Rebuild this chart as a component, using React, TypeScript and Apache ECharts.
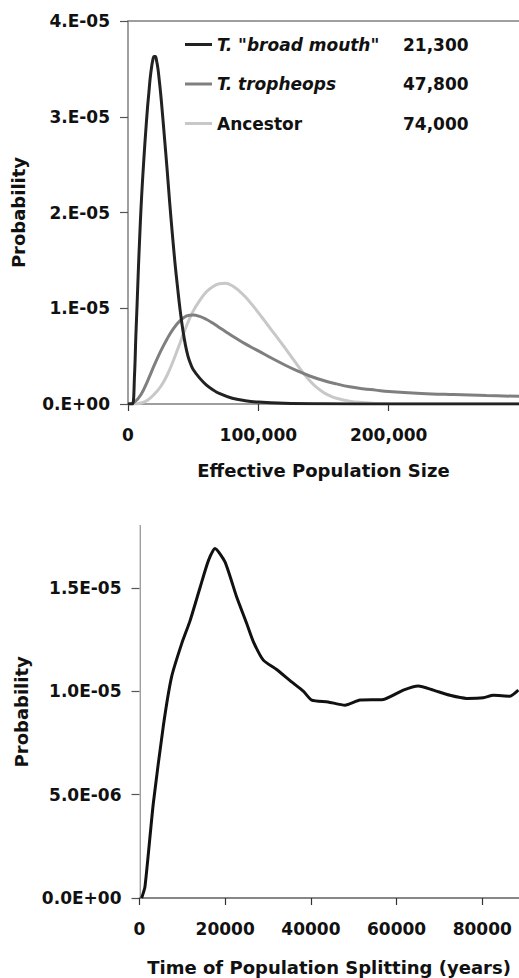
import React, { useEffect, useRef } from "react";
import * as echarts from "echarts";

// ---------- Data ----------
const seriesNames = ['T. "broad mouth"', "T. tropheops", "Ancestor"];
const seriesModes = ["21,300", "47,800", "74,000"];

// Effective population size (x) vs probability (y, in units of 1e-5)
const broadMouthX = [0, 2000, 3500, 5000, 6000, 7000, 8000, 9000, 10000, 11000, 12000, 13000, 14000, 15000, 16000, 17000, 18000, 19000, 20000, 21000, 22000, 23000, 24000, 25000, 26000, 28000, 30000, 32000, 34000, 36000, 38000, 40000, 42000, 44000, 46000, 48000, 50000, 55000, 60000, 65000, 70000, 80000, 90000, 100000, 120000, 150000, 200000, 300000];
const broadMouthY = [0, 0, 0, 0.3, 0.7, 1.05, 1.42, 1.75, 2.05, 2.3, 2.52, 2.73, 2.92, 3.1, 3.25, 3.4, 3.51, 3.59, 3.63, 3.63, 3.58, 3.5, 3.38, 3.25, 3.1, 2.78, 2.45, 2.1, 1.78, 1.48, 1.22, 0.98, 0.78, 0.62, 0.5, 0.42, 0.36, 0.27, 0.2, 0.15, 0.11, 0.06, 0.035, 0.02, 0.008, 0.003, 0, 0];

const tropheopsX = [0, 5000, 10000, 15000, 20000, 25000, 30000, 35000, 40000, 45000, 50000, 55000, 60000, 65000, 70000, 75000, 80000, 85000, 90000, 95000, 100000, 110000, 120000, 130000, 140000, 150000, 160000, 170000, 180000, 190000, 200000, 225000, 250000, 275000, 300000];
const tropheopsY = [0, 0.02, 0.1, 0.24, 0.4, 0.55, 0.68, 0.79, 0.87, 0.92, 0.93, 0.915, 0.885, 0.845, 0.8, 0.755, 0.71, 0.668, 0.628, 0.59, 0.555, 0.48, 0.41, 0.345, 0.29, 0.245, 0.21, 0.18, 0.16, 0.145, 0.13, 0.11, 0.098, 0.088, 0.08];

const ancestorX = [0, 5000, 10000, 15000, 20000, 25000, 30000, 35000, 40000, 45000, 50000, 55000, 60000, 65000, 70000, 75000, 80000, 85000, 90000, 95000, 100000, 105000, 110000, 115000, 120000, 125000, 130000, 135000, 140000, 145000, 150000, 155000, 160000, 170000, 180000, 190000, 200000, 220000, 300000];
const ancestorY = [0, 0, 0.01, 0.04, 0.1, 0.18, 0.3, 0.46, 0.64, 0.82, 0.97, 1.08, 1.17, 1.225, 1.255, 1.26, 1.235, 1.185, 1.12, 1.04, 0.955, 0.865, 0.775, 0.685, 0.595, 0.5, 0.405, 0.315, 0.235, 0.17, 0.12, 0.085, 0.06, 0.03, 0.015, 0.006, 0.002, 0, 0];

// Time of population splitting (years) vs probability (in units of 1e-6)
const splitX = [500, 1280, 3220, 5550, 7500, 9850, 11790, 14120, 16060, 17620, 19950, 22680, 25020, 26560, 28900, 32000, 35500, 38230, 40180, 44000, 47960, 51460, 56900, 61570, 65070, 68570, 72460, 76360, 80240, 82570, 86470, 88410];
const splitY = [0, 0.55, 4.57, 8.3, 10.7, 12.3, 13.4, 15.0, 16.3, 16.9, 16.25, 14.55, 13.27, 12.4, 11.5, 11.05, 10.45, 10.0, 9.57, 9.48, 9.32, 9.57, 9.6, 10.05, 10.25, 10.05, 9.8, 9.65, 9.68, 9.8, 9.76, 10.05];

const topXTicks = [0, 100000, 200000];
const topYTicks = [0, 1e-5, 2e-5, 3e-5, 4e-5];
const botXTicks = [0, 20000, 40000, 60000, 80000];
const botYTicks = [0, 5e-6, 1e-5, 1.5e-5];

const pairs = (xs: number[], ys: number[], unit: number) => xs.map((x, i) => [x, ys[i] * unit]);

// ---------- Helpers ----------
function sci(v: number, d: number): string {
  if (Math.abs(v) < 1e-15) return (d === 0 ? "0." : (0).toFixed(d)) + "E+00";
  let e = Math.floor(Math.log10(Math.abs(v)) + 1e-9);
  let m = v / Math.pow(10, e);
  m = Math.round(m * Math.pow(10, d)) / Math.pow(10, d);
  if (m >= 10) { m /= 10; e += 1; }
  const ms = d === 0 ? Math.round(m) + "." : m.toFixed(d);
  const es = (e < 0 ? "-" : "+") + String(Math.abs(e)).padStart(2, "0");
  return ms + "E" + es;
}

const FONT = "DejaVu Sans";
const TXT = "#111";
const AXIS = "#7f7f7f";

export default function App() {
  const ref = useRef<HTMLDivElement>(null);
  useEffect(() => {
    document.body.style.margin = "0";
    if (!ref.current) return;
    const chart = echarts.init(ref.current, undefined, { renderer: "svg" });
    const labelStyle = { fontFamily: FONT, fontWeight: "bold" as const, fontSize: 17, color: TXT };
    const nameStyle = { fontFamily: FONT, fontWeight: "bold" as const, fontSize: 18, color: TXT };
    const option: any = {
      animation: false,
      backgroundColor: "#fff",
      grid: [
        { left: 128, top: 21, width: 406.5, height: 383 },
        { left: 139.5, top: 525.7, width: 379.2, height: 372.3 },
      ],
      legend: {
        data: seriesNames,
        orient: "vertical",
        left: 185,
        top: 36,
        padding: 0,
        itemGap: 22.5,
        itemWidth: 27,
        itemHeight: 3,
        icon: "rect",
        textStyle: {
          fontFamily: FONT, fontWeight: "bold", fontSize: 17, color: TXT,
          rich: {
            it: { fontFamily: FONT, fontWeight: "bold", fontStyle: "italic", fontSize: 17, color: TXT, width: 186 },
            n: { fontFamily: FONT, fontWeight: "bold", fontSize: 17, color: TXT, width: 186 },
            v: { fontFamily: FONT, fontWeight: "bold", fontSize: 17, color: TXT },
          },
        },
        formatter: (name: string) => {
          const i = seriesNames.indexOf(name);
          const tag = i === 2 ? "n" : "it";
          return `{${tag}|${name}}{v|${seriesModes[i]}}`;
        },
      },
      xAxis: [
        {
          type: "value", gridIndex: 0, min: 0, max: 300000, interval: 100000,
          name: "Effective Population Size", nameLocation: "middle", nameGap: 57,
          nameTextStyle: { ...nameStyle, padding: [0, 0, 0, 0] },
          axisLine: { show: true, lineStyle: { color: AXIS, width: 1.5 } },
          axisTick: { show: true, length: 7, customValues: topXTicks, lineStyle: { color: "#333", width: 1.2 } },
          axisLabel: { ...labelStyle, margin: 22, customValues: topXTicks, formatter: (v: number) => v.toLocaleString("en-US") },
          splitLine: { show: false },
        },
        {
          type: "value", gridIndex: 0, position: "top", min: 0, max: 300000,
          axisLine: { show: true, lineStyle: { color: AXIS, width: 1.5 } },
          axisTick: { show: false }, axisLabel: { show: false }, splitLine: { show: false },
        },
        {
          type: "value", gridIndex: 1, min: 0, max: 88500, interval: 20000,
          name: "Time of Population Splitting (years)", nameLocation: "middle", nameGap: 60,
          nameTextStyle: nameStyle,
          axisLine: { show: true, lineStyle: { color: AXIS, width: 1.5 } },
          axisTick: { show: true, length: 7, customValues: botXTicks, lineStyle: { color: "#333", width: 1.2 } },
          axisLabel: { ...labelStyle, margin: 22, customValues: botXTicks, formatter: (v: number) => String(v) },
          splitLine: { show: false },
        },
        {
          type: "value", gridIndex: 1, position: "top", min: 0, max: 88500,
          axisLine: { show: true, lineStyle: { color: AXIS, width: 1.5 } },
          axisTick: { show: false }, axisLabel: { show: false }, splitLine: { show: false },
        },
      ],
      yAxis: [
        {
          type: "value", gridIndex: 0, min: 0, max: 4e-5, interval: 1e-5,
          name: "Probability", nameLocation: "middle", nameGap: 101, nameTextStyle: nameStyle,
          axisLine: { show: true, lineStyle: { color: AXIS, width: 1.5 } },
          axisTick: { show: true, length: 8, customValues: topYTicks, lineStyle: { color: "#555", width: 1.2 } },
          axisLabel: { ...labelStyle, margin: 18, customValues: topYTicks, formatter: (v: number) => sci(v, 0) },
          splitLine: { show: false },
        },
        {
          type: "value", gridIndex: 1, min: 0, max: 1.8e-5, interval: 5e-6,
          name: "Probability", nameLocation: "middle", nameGap: 108, nameTextStyle: nameStyle,
          axisLine: { show: true, lineStyle: { color: AXIS, width: 1.5 } },
          axisTick: { show: true, length: 8, customValues: botYTicks, lineStyle: { color: "#555", width: 1.2 } },
          axisLabel: { ...labelStyle, margin: 18, customValues: botYTicks, formatter: (v: number) => sci(v, 1) },
          splitLine: { show: false },
        },
        {
          type: "value", gridIndex: 1, position: "right", min: 0, max: 1.8e-5,
          axisLine: { show: true, lineStyle: { color: "#d8d8d8", width: 1 } },
          axisTick: { show: false }, axisLabel: { show: false }, splitLine: { show: false },
        },
      ],
      series: [
        { name: seriesNames[0], type: "line", xAxisIndex: 0, yAxisIndex: 0, data: pairs(broadMouthX, broadMouthY, 1e-5), smooth: 0.4, showSymbol: false, lineStyle: { color: "#222", width: 3 }, itemStyle: { color: "#222" }, z: 4 },
        { name: seriesNames[1], type: "line", xAxisIndex: 0, yAxisIndex: 0, data: pairs(tropheopsX, tropheopsY, 1e-5), smooth: 0.4, showSymbol: false, lineStyle: { color: "#7f7f7f", width: 3 }, itemStyle: { color: "#7f7f7f" }, z: 3 },
        { name: seriesNames[2], type: "line", xAxisIndex: 0, yAxisIndex: 0, data: pairs(ancestorX, ancestorY, 1e-5), smooth: 0.4, showSymbol: false, lineStyle: { color: "#c8c8c8", width: 3 }, itemStyle: { color: "#c8c8c8" }, z: 2 },
        { name: "Splitting", type: "line", xAxisIndex: 2, yAxisIndex: 1, data: pairs(splitX, splitY, 1e-6), smooth: 0.2, showSymbol: false, lineStyle: { color: "#111", width: 3 }, itemStyle: { color: "#111" } },
      ],
    };
    chart.setOption(option);
    return () => chart.dispose();
  }, []);
  return <div ref={ref} style={{ width: 519, height: 978 }} />;
}
